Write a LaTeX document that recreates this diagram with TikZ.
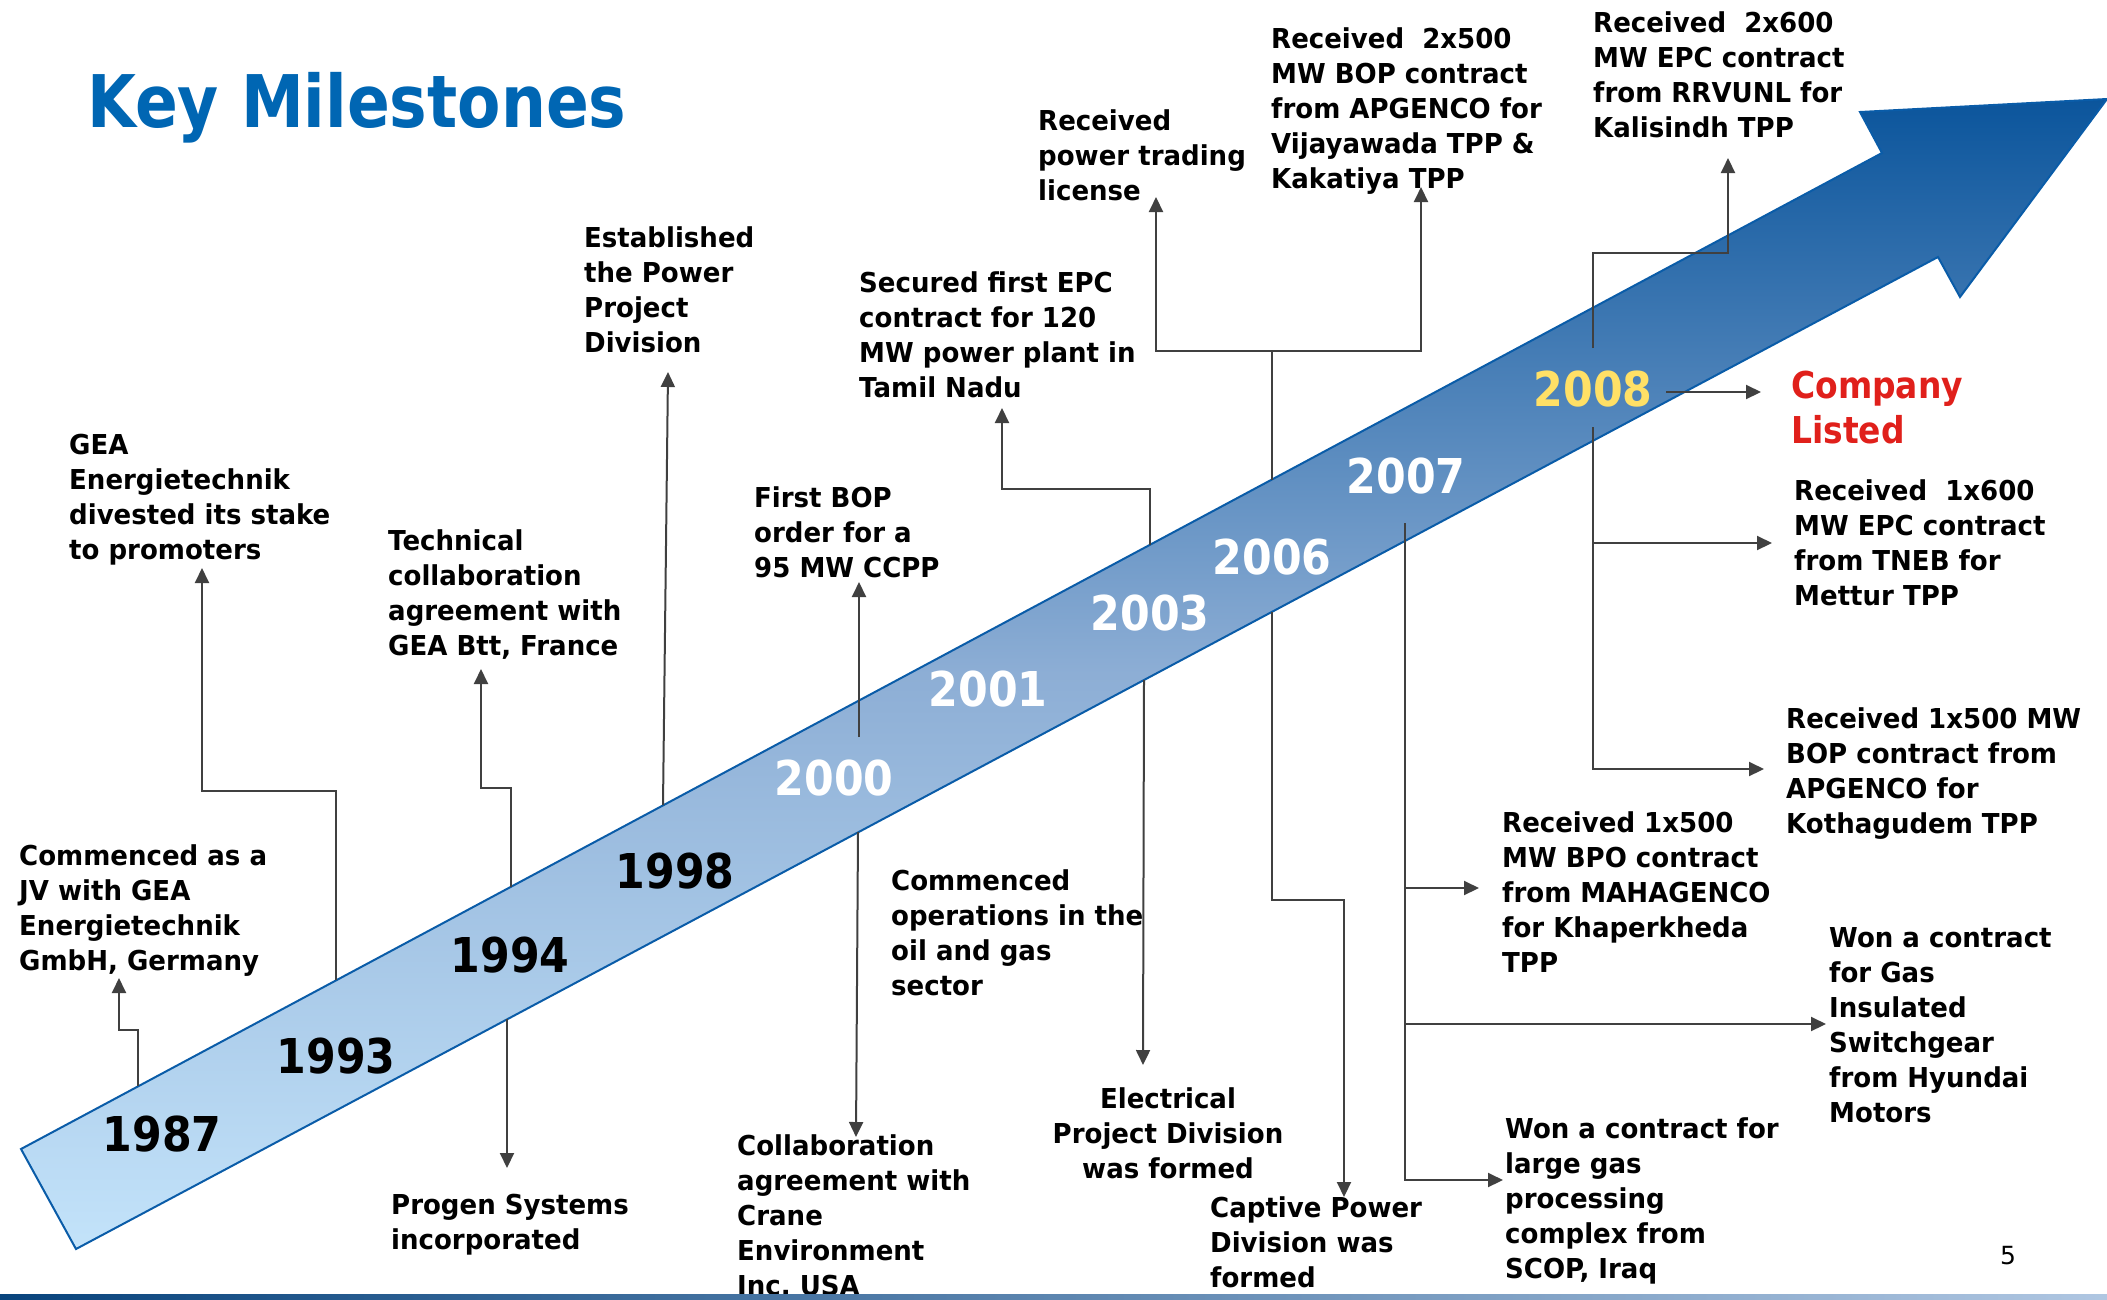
\documentclass[tikz,border=0pt]{standalone}
\usepackage{fontspec}
\setmainfont{DejaVu Sans}
\newfontfamily\bodyfont{DejaVu Sans}[FakeStretch=0.95]
\newfontfamily\yearfont{DejaVu Sans}[FakeStretch=0.89]
\newfontfamily\titlefont{DejaVu Sans}[FakeStretch=0.87]
\usetikzlibrary{arrows.meta}

\definecolor{titleblue}{HTML}{0066B3}
\definecolor{bandtop}{HTML}{0B559C}
\definecolor{bandmid}{HTML}{8DAED5}
\definecolor{bandbot}{HTML}{C3E3FA}
\definecolor{bandedge}{HTML}{0A5CA8}
\definecolor{linkgray}{HTML}{404040}
\definecolor{listedred}{HTML}{E0201B}
\definecolor{gold}{HTML}{FFE066}

\tikzset{
  event/.style={align=left, anchor=north west, inner sep=0pt,
    font=\bodyfont\bfseries\fontsize{27.4}{35}\selectfont},
  year/.style={inner sep=0pt, font=\yearfont\bfseries\fontsize{48}{48}\selectfont},
  link/.style={color=linkgray, line width=2pt, -{Triangle[length=15pt,width=14pt]}},
  trunk/.style={draw=linkgray, line width=2pt},
}

\begin{document}
\begin{tikzpicture}[x=1pt, y=-1pt]
\useasboundingbox (0,0) rectangle (2107,1299);

\node[anchor=base west, inner sep=0pt, text=titleblue,
  font=\titlefont\bfseries\fontsize{72.6}{80}\selectfont] (title) at (87,127) {Key Milestones};

% the big timeline arrow
\path[draw=bandedge, line width=2pt, top color=bandtop, bottom color=bandbot, middle color=bandmid]
  (21,1149) -- (1882,153) -- (1860,112) -- (2107,99) -- (1960,297) -- (1938,257) -- (76,1249) -- cycle;

% years
\node[year] (y87) at (162,1134) {1987};
\node[year] (y93) at (336,1056) {1993};
\node[year] (y94) at (510,955) {1994};
\node[year] (y98) at (675,871) {1998};
\node[year, text=white] (y00) at (834,778) {2000};
\node[year, text=white] (y01) at (988,689) {2001};
\node[year, text=white] (y03) at (1150,613) {2003};
\node[year, text=white] (y06) at (1272,557) {2006};
\node[year, text=white] (y07) at (1406,476) {2007};
\node[year, text=gold] (y08) at (1593,389) {2008};

% events
\node[event] (jv) at (19,844) {Commenced as a\\JV with GEA\\Energietechnik\\GmbH, Germany};
\node[event] (gea) at (69,434) {GEA\\Energietechnik\\divested its stake\\to promoters};
\node[event] (tech) at (388,529) {Technical\\collaboration\\agreement with\\GEA Btt, France};
\node[event] (progen) at (391,1194) {Progen Systems\\incorporated};
\node[event] (estab) at (584,226) {Established\\the Power\\Project\\Division};
\node[event] (bop95) at (754,486) {First BOP\\order for a\\95 MW CCPP};
\node[event] (crane) at (737,1134) {Collaboration\\agreement with\\Crane\\Environment\\Inc, USA};
\node[event] (epc120) at (859,271) {Secured first EPC\\contract for 120\\MW power plant in\\Tamil Nadu};
\node[event] (oilgas) at (891,869) {Commenced\\operations in the\\oil and gas\\sector};
\node[event, align=center, anchor=north] (elec) at (1168,1087) {Electrical\\Project Division\\was formed};
\node[event] (trading) at (1038,109) {Received\\power trading\\license};
\node[event] (vija) at (1271,27) {Received~~2x500\\MW BOP contract\\from APGENCO for\\Vijayawada TPP \&\\Kakatiya TPP};
\node[event] (captive) at (1210,1196) {Captive Power\\Division was\\formed};
\node[event] (kali) at (1593,11) {Received~~2x600\\MW EPC contract\\from RRVUNL for\\Kalisindh TPP};
\node[event, text=listedred, font=\yearfont\bfseries\fontsize{37}{45}\selectfont] (listed) at (1791,371) {Company\\Listed};
\node[event] (mettur) at (1794,479) {Received~~1x600\\MW EPC contract\\from TNEB for\\Mettur TPP};
\node[event] (kotha) at (1786,707) {Received 1x500 MW\\BOP contract from\\APGENCO for\\Kothagudem TPP};
\node[event] (khaper) at (1502,811) {Received 1x500\\MW BPO contract\\from MAHAGENCO\\for Khaperkheda\\TPP};
\node[event] (gis) at (1829,927) {Won a contract\\for Gas\\Insulated\\Switchgear\\from Hyundai\\Motors};
\node[event] (scop) at (1505,1117) {Won a contract for\\large gas\\processing\\complex from\\SCOP, Iraq};

\node[inner sep=0pt, font=\fontsize{25}{25}\selectfont] (pagenum) at (2008,1256) {5};

% connector ends and bends
\coordinate (s87) at (138,1086); \coordinate (b87) at (119,1030); \coordinate (t87) at (119,978);
\coordinate (s93) at (336,980); \coordinate (b93) at (202,791); \coordinate (t93) at (202,568);
\coordinate (s94u) at (511,887); \coordinate (b94) at (481,788); \coordinate (t94u) at (481,669);
\coordinate (s94d) at (507,1019); \coordinate (t94d) at (507,1168);
\coordinate (s98) at (663,805); \coordinate (t98) at (668,372);
\coordinate (s00u) at (859,737); \coordinate (t00u) at (859,582);
\coordinate (s00d) at (858,832); \coordinate (t00d) at (856,1137);
\coordinate (s03u) at (1150,545); \coordinate (b03) at (1002,489); \coordinate (t03u) at (1002,408);
\coordinate (s03d) at (1144,680); \coordinate (t03d) at (1143,1065);
\coordinate (s06u) at (1272,480); \coordinate (j06) at (1272,351);
\coordinate (t06a) at (1156,197); \coordinate (t06b) at (1421,187);
\coordinate (s06d) at (1272,612); \coordinate (j06d) at (1272,900); \coordinate (t06c) at (1344,1197);
\coordinate (s07) at (1405,523);
\coordinate (t07a) at (1479,888); \coordinate (t07b) at (1826,1024); \coordinate (t07c) at (1503,1180);
\coordinate (s08u) at (1593,348); \coordinate (j08) at (1593,253); \coordinate (t08a) at (1728,158);
\coordinate (s08d) at (1593,427); \coordinate (t08b) at (1772,543); \coordinate (t08c) at (1764,769);
\coordinate (s08r) at (1666,392); \coordinate (t08r) at (1761,392);

% connectors
\draw[link] (s87) |- (b87) -- (t87);
\draw[link] (s93) |- (b93) -- (t93);
\draw[link] (s94u) |- (b94) -- (t94u);
\path[link] (s94d) edge (t94d);
\path[link] (s98) edge (t98);
\path[link] (s00u) edge (t00u);
\path[link] (s00d) edge (t00d);
\draw[link] (s03u) |- (b03) -- (t03u);
\path[link] (s03d) edge (t03d);
\draw[trunk] (s06u) -- (j06);
\draw[link] (j06) -| (t06a);
\draw[link] (j06) -| (t06b);
\draw[link] (s06d) -- (j06d) -| (t06c);
\draw[link] (s07) |- (t07a);
\draw[link] (s07) |- (t07b);
\draw[link] (s07) |- (t07c);
\draw[link] (s08u) -- (j08) -| (t08a);
\draw[link] (s08d) |- (t08b);
\draw[link] (s08d) |- (t08c);
\path[link] (s08r) edge (t08r);

% footer bar
\path[left color=bandtop!80!black, right color=bandmid!70!white] (0,1294) rectangle (2107,1299);

\end{tikzpicture}
\end{document}
